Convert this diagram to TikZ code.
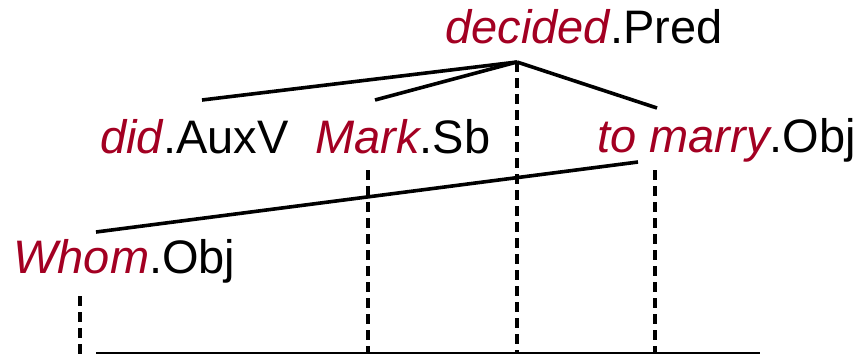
\documentclass[tikz,border=0pt]{standalone}
\usepackage{fontspec}
\setmainfont{Liberation Sans}
\usepackage{tikz}
\usetikzlibrary{positioning}

\definecolor{wordred}{RGB}{163,0,34}
\newcommand{\wrd}[1]{\textcolor{wordred}{\itshape #1}}

\begin{document}
\begin{tikzpicture}[
      x=0.5pt, y=-0.5pt,
      lbl/.style={anchor=base west, inner sep=0pt, font=\fontsize{23.5}{28}\selectfont},
      edge/.style={line width=1.8pt},
      proj/.style={line width=1.8pt, dash pattern=on 5pt off 3pt},
      every node/.style={text=black}
      ]
    \useasboundingbox (0,0) rectangle (861,355);

    % Nodes
    \node[lbl] (pred) at (445,43) {\wrd{decided}.Pred};
    \node[lbl] (auxv) at (100,153) {\wrd{did}.AuxV};
    \node[lbl] (sb) at (315,153) {\wrd{Mark}.Sb};
    \node[lbl] (obj) at (597,152) {\wrd{to marry}.Obj};
    \node[lbl] (whom) at (13,273) {\wrd{Whom}.Obj};

    % attachment points
    \coordinate (pred-top) at (517,62);
    \coordinate (auxv-top) at (202,100);
    \coordinate (sb-top) at (375,100);
    \coordinate (obj-top) at (657,108);
    \coordinate (obj-left) at (638,162);
    \coordinate (whom-top) at (96,232);
    \coordinate (whom-low) at (80,296);
    \coordinate (sb-low) at (368,170);
    \coordinate (obj-low) at (655,170);
    \coordinate (line-start) at (96,353);
    \coordinate (line-end) at (760,353);

    % Edges
    \draw[edge] (pred-top) -- (auxv-top);
    \draw[edge] (pred-top) -- (sb-top);
    \draw[edge] (pred-top) -- (obj-top);
    \draw[edge] (obj-left) -- (whom-top);

    % Projections
    \draw[proj] (pred-top) -- (pred-top |- line-start);
    \draw[proj] (sb-low) -- (sb-low |- line-start);
    \draw[proj] (obj-low) -- (obj-low |- line-start);
    \draw[proj] (whom-low) -- (80,355);

    % Word order line
    \draw[line width=1.2pt] (line-start) -- (line-end);

    \end{tikzpicture}
\end{document}
